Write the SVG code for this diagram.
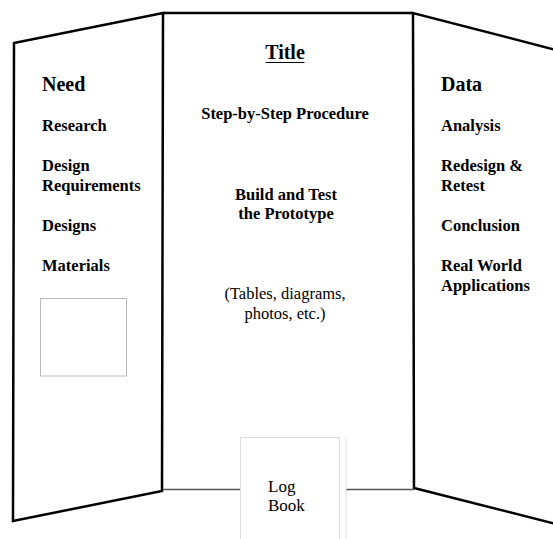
<svg xmlns="http://www.w3.org/2000/svg" width="553" height="539" viewBox="0 0 553 539">
  <style>
    .panel { fill: #ffffff; stroke: #000000; stroke-width: 2.5; stroke-linejoin: miter; }
    .edge { fill: none; stroke: #000000; stroke-width: 2.5; }
    .floor { fill: none; stroke: #555555; stroke-width: 1.5; }
    .faint { fill: #ffffff; stroke: #dddddd; stroke-width: 1; }
    .box { fill: #ffffff; stroke: #bbbbbb; stroke-width: 1; }
    text { font-family: "Liberation Serif", "Times New Roman", serif; fill: #000000; }
    .h { font-size: 20px; font-weight: bold; }
    .b { font-size: 16.5px; font-weight: bold; }
    .r { font-size: 16.5px; }
    .c { text-anchor: middle; }
  </style>
  <rect width="553" height="539" fill="#ffffff"/>

  <g id="board">
    <polygon class="panel" points="14,43 163,13 162,491 13,521"/>
    <polyline class="edge" points="560,51 413,13 414,488 560,525"/>
    <line class="edge" x1="163" y1="13" x2="413" y2="13"/>
    <line class="floor" x1="163" y1="489.5" x2="240.5" y2="489.5"/>
    <line class="floor" x1="346" y1="489.5" x2="414" y2="489.5"/>
  </g>

  <g id="left-panel">
    <text class="h" x="42" y="90.5">Need</text>
    <text class="b" x="42" y="131">Research</text>
    <text class="b" x="42" y="171">Design</text>
    <text class="b" x="42" y="191">Requirements</text>
    <text class="b" x="42" y="231">Designs</text>
    <text class="b" x="42" y="271">Materials</text>
    <rect class="box" x="40.5" y="298.5" width="86" height="77.5"/>
  </g>

  <g id="center-panel">
    <text class="h c" x="285" y="59">Title</text>
    <line x1="265.5" y1="62.5" x2="304.5" y2="62.5" stroke="#000000" stroke-width="1.2"/>
    <text class="b c" x="285" y="118.5">Step-by-Step Procedure</text>
    <text class="b c" x="286" y="199.5">Build and Test</text>
    <text class="b c" x="286" y="218.5">the Prototype</text>
    <text class="r c" x="285" y="298.5">(Tables, diagrams,</text>
    <text class="r c" x="285" y="319">photos, etc.)</text>
  </g>

  <g id="right-panel">
    <text class="h" x="441" y="90.5">Data</text>
    <text class="b" x="441" y="131">Analysis</text>
    <text class="b" x="441" y="171">Redesign &amp;</text>
    <text class="b" x="441" y="191">Retest</text>
    <text class="b" x="441" y="231">Conclusion</text>
    <text class="b" x="441" y="271">Real World</text>
    <text class="b" x="441" y="291">Applications</text>
  </g>

  <g id="log-book">
    <rect class="faint" x="240.5" y="437.5" width="99" height="110"/>
    <line x1="346" y1="437.5" x2="346" y2="539" stroke="#e0e0e0" stroke-width="1"/>
    <text class="r" x="268" y="491.5" style="font-size:17px">Log</text>
    <text class="r" x="268" y="510.5" style="font-size:17px">Book</text>
  </g>
</svg>
